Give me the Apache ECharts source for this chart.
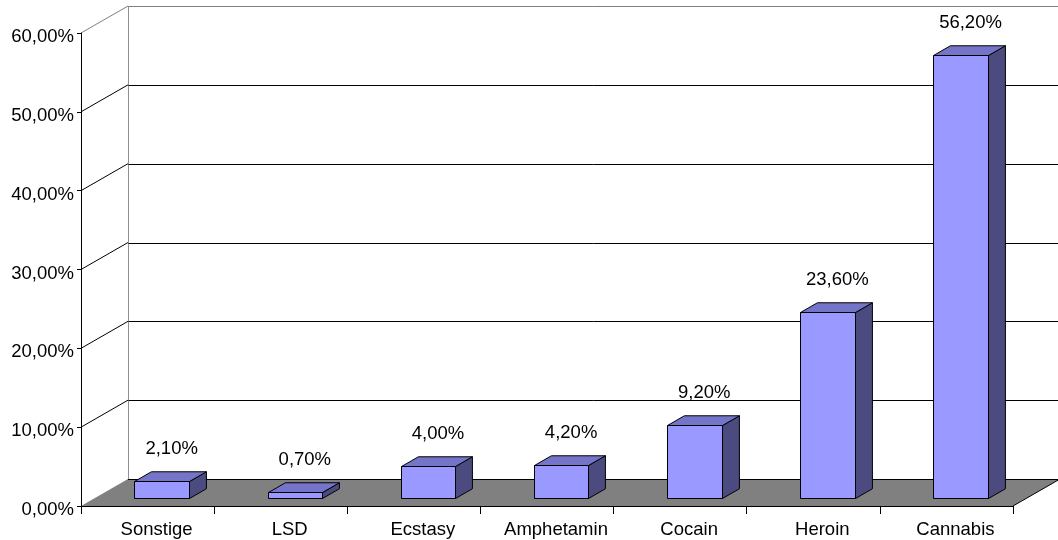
<!DOCTYPE html>
<html>
<head>
<meta charset="utf-8">
<script src="https://cdn.jsdelivr.net/npm/echarts@6/dist/echarts.min.js"></script>
<style>
html,body{margin:0;padding:0;background:#fff;}
#chart{width:1058px;height:540px;}
</style>
</head>
<body>
<div id="chart"></div>
<script>
const categories = ['Sonstige', 'LSD', 'Ecstasy', 'Amphetamin', 'Cocain', 'Heroin', 'Cannabis'];
const values = [2.1, 0.7, 4.0, 4.2, 9.2, 23.6, 56.2];
const yTicks = [0, 10, 20, 30, 40, 50, 60];

const DX = 47, DY = -27;          // depth of the 3D box (pixels)
const FONT = '"Liberation Sans", Arial, sans-serif';
const FS = 18.5;
const fmt = v => v.toFixed(2).replace('.', ',') + '%';
const px = v => Math.round(v) + 0.5;

const chart = echarts.init(document.getElementById('chart'), null, {renderer: 'canvas'});

function renderBackground(params, api) {
  const cs = params.coordSys;
  const x0 = cs.x, x1 = cs.x + cs.width;
  const y0 = api.coord([0, 0])[1];
  const children = [];
  children.push({
    type: 'polygon',
    shape: {points: [[x0, y0], [x1, y0], [x1 + DX, y0 + DY], [x0 + DX, y0 + DY]]},
    style: {fill: '#808080', stroke: null}
  });
  children.push({type: 'line', shape: {x1: x0 + DX, y1: px(y0 + DY), x2: x1 + DX, y2: px(y0 + DY)}, style: {stroke: '#000', lineWidth: 1}});
  children.push({type: 'line', shape: {x1: x1, y1: y0, x2: x1 + DX, y2: y0 + DY}, style: {stroke: '#000', lineWidth: 1}});
  children.push({type: 'line', shape: {x1: x0, y1: px(y0), x2: x1, y2: px(y0)}, style: {stroke: '#000', lineWidth: 1}});
  const maxV = yTicks[yTicks.length - 1];
  const yTop = api.coord([0, maxV])[1];
  children.push({type: 'line', shape: {x1: px(x0 + DX), y1: y0 + DY, x2: px(x0 + DX), y2: yTop + DY}, style: {stroke: '#909090', lineWidth: 1}});
  yTicks.forEach(v => {
    if (v === 0) return;
    const y = api.coord([0, v])[1];
    const col = v === maxV ? '#808080' : '#000';
    children.push({type: 'line', shape: {x1: px(x0 + DX), y1: px(y + DY), x2: x1 + DX, y2: px(y + DY)}, style: {stroke: col, lineWidth: 1}});
    children.push({type: 'line', shape: {x1: x0, y1: y, x2: x0 + DX, y2: y + DY}, style: {stroke: col, lineWidth: 1}});
  });
  return {type: 'group', children: children};
}

function renderBar(params, api) {
  const i = api.value(0), v = api.value(1);
  const base = api.coord([i, 0]);
  const top = api.coord([i, v]);
  const band = api.size([1, 0])[0];
  const w = band * 0.41;
  const f = 0.30, d = 0.36;
  const cx = base[0] + DX * f;
  const by = base[1] + DY * f;
  const ty = top[1] + DY * f;
  const l = Math.round(cx - w / 2) + 0.5, r = Math.round(cx + w / 2) + 0.5;
  const tY = Math.round(ty) + 0.5, bY = Math.round(by) + 0.5;
  const ddx = DX * d, ddy = DY * d;
  const stroke = {stroke: '#000', lineWidth: 1, lineJoin: 'round'};
  return {
    type: 'group',
    children: [
      {type: 'polygon', shape: {points: [[r, tY], [r + ddx, tY + ddy], [r + ddx, bY + ddy], [r, bY]]},
        style: Object.assign({fill: '#4B4B80'}, stroke)},
      {type: 'polygon', shape: {points: [[l, tY], [r, tY], [r + ddx, tY + ddy], [l + ddx, tY + ddy]]},
        style: Object.assign({fill: '#7474C8'}, stroke)},
      {type: 'rect', shape: {x: l, y: tY, width: r - l, height: bY - tY},
        style: Object.assign({fill: '#9999FF'}, stroke)},
      {type: 'text', x: cx + 10, y: ty - 32,
        style: {text: fmt(v), fill: '#000', font: FS + 'px ' + FONT, align: 'center', verticalAlign: 'middle'}}
    ]
  };
}

chart.setOption({
  animation: false,
  backgroundColor: '#fff',
  grid: {left: 81, right: 45, top: 33, bottom: 34, containLabel: false},
  xAxis: {
    type: 'category',
    data: categories,
    boundaryGap: true,
    axisLine: {show: true, lineStyle: {color: '#000', width: 1}},
    axisTick: {show: true, length: 8, inside: false, lineStyle: {color: '#000'}},
    axisLabel: {color: '#000', fontSize: FS, fontFamily: FONT, margin: 14, interval: 0, padding: [0, 0, 0, 18]},
    splitLine: {show: false},
    z: 5
  },
  yAxis: {
    type: 'value',
    min: 0, max: 60, interval: 10,
    axisLine: {show: true, lineStyle: {color: '#000', width: 1}},
    axisTick: {show: true, length: 4, inside: false, lineStyle: {color: '#000'}},
    axisLabel: {
      margin: 7,
      formatter: v => '{t|' + fmt(v) + '}',
      rich: {t: {color: '#000', fontSize: FS, fontFamily: FONT, padding: [8, 0, 0, 0]}}
    },
    splitLine: {show: false},
    z: 5
  },
  series: [
    {type: 'custom', z: 1, renderItem: renderBackground, data: [[0, 0]], encode: {x: 0, y: 1}, silent: true},
    {type: 'custom', z: 3, renderItem: renderBar, data: values.map((v, i) => [i, v]), encode: {x: 0, y: 1}}
  ]
});
</script>
</body>
</html>
